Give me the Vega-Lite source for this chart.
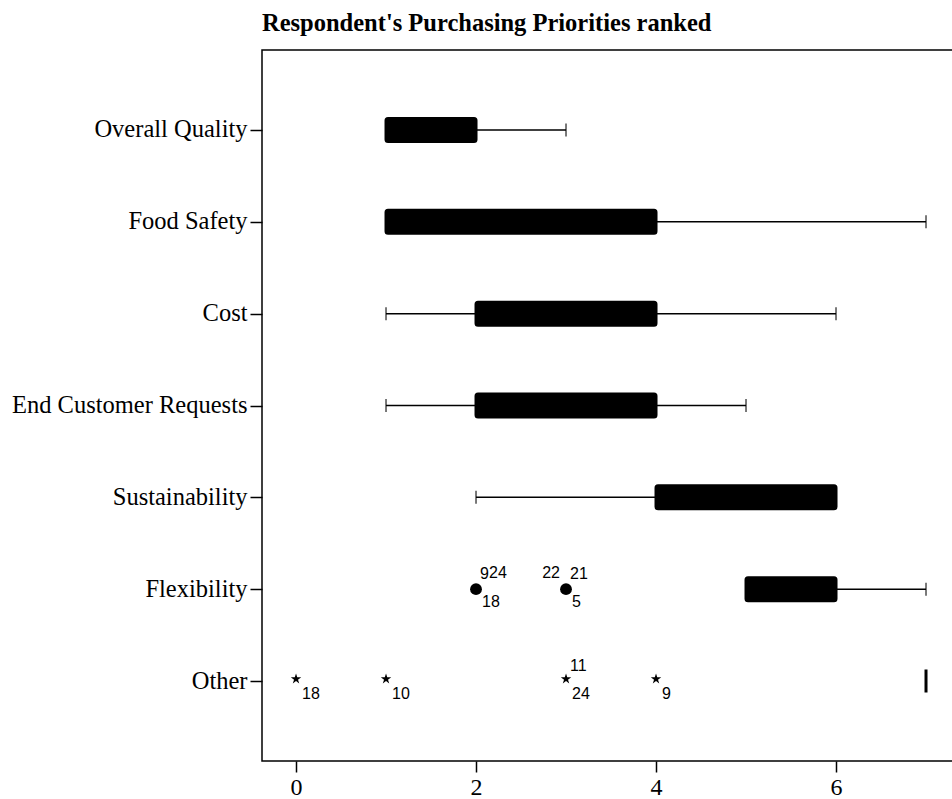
{
  "$schema": "https://vega.github.io/schema/vega-lite/v6.json",
  "autosize": "none",
  "width": 692,
  "height": 711,
  "padding": {"top": 50, "left": 262, "right": 0, "bottom": 38},
  "background": "white",
  "title": {
    "text": "Respondent's Purchasing Priorities ranked",
    "anchor": "start",
    "frame": "group",
    "font": "Liberation Serif",
    "fontWeight": "bold",
    "fontSize": 24.5,
    "color": "black",
    "baseline": "alphabetic",
    "offset": 21,
    "dy": 26
  },
  "config": {
    "view": {"stroke": "black", "strokeWidth": 1.5},
    "axis": {"grid": false, "domain": false, "tickColor": "black", "labelColor": "black", "tickWidth": 1.5}
  },
  "datasets": {
    "boxes": [
      {"category": "Overall Quality", "lo": 1, "q1": 1, "q3": 2, "hi": 3},
      {"category": "Food Safety", "lo": 1, "q1": 1, "q3": 4, "hi": 7},
      {"category": "Cost", "lo": 1, "q1": 2, "q3": 4, "hi": 6},
      {"category": "End Customer Requests", "lo": 1, "q1": 2, "q3": 4, "hi": 5},
      {"category": "Sustainability", "lo": 2, "q1": 4, "q3": 6, "hi": 6},
      {"category": "Flexibility", "lo": 5, "q1": 5, "q3": 6, "hi": 7},
      {"category": "Other", "lo": 7, "q1": 7, "q3": 7, "hi": 7}
    ],
    "outliers": [
      {"category": "Flexibility", "value": 2, "kind": "outlier"},
      {"category": "Flexibility", "value": 3, "kind": "outlier"},
      {"category": "Other", "value": 0, "kind": "extreme"},
      {"category": "Other", "value": 1, "kind": "extreme"},
      {"category": "Other", "value": 3, "kind": "extreme"},
      {"category": "Other", "value": 4, "kind": "extreme"}
    ],
    "labels": [
      {"category": "Flexibility", "value": 2, "label": "9", "side": "ur"},
      {"category": "Flexibility", "value": 2, "label": "24", "side": "ur2"},
      {"category": "Flexibility", "value": 2, "label": "18", "side": "lr"},
      {"category": "Flexibility", "value": 3, "label": "22", "side": "ul"},
      {"category": "Flexibility", "value": 3, "label": "21", "side": "ur"},
      {"category": "Flexibility", "value": 3, "label": "5", "side": "lr"},
      {"category": "Other", "value": 0, "label": "18", "side": "lr"},
      {"category": "Other", "value": 1, "label": "10", "side": "lr"},
      {"category": "Other", "value": 3, "label": "11", "side": "ur"},
      {"category": "Other", "value": 3, "label": "24", "side": "lr"},
      {"category": "Other", "value": 4, "label": "9", "side": "lr"}
    ]
  },
  "encoding": {
    "y": {
      "field": "category",
      "type": "nominal",
      "scale": {
        "type": "point",
        "padding": 0.871,
        "domain": ["Overall Quality", "Food Safety", "Cost", "End Customer Requests", "Sustainability", "Flexibility", "Other"]
      },
      "axis": {
        "title": null,
        "labelFont": "Liberation Serif",
        "labelFontSize": 24.5,
        "labelLimit": 0,
        "tickSize": 12,
        "labelPadding": 3
      }
    }
  },
  "layer": [
    {
      "data": {"name": "boxes"},
      "mark": {"type": "rule", "color": "black", "strokeWidth": 1.5},
      "encoding": {
        "x": {
          "field": "lo",
          "type": "quantitative",
          "scale": {"domain": [-0.378, 7.311], "nice": false, "zero": false},
          "axis": {
            "title": null,
            "values": [0, 2, 4, 6],
            "format": "d",
            "labelFont": "Liberation Serif",
            "labelFontSize": 24,
            "tickSize": 11,
            "labelPadding": 3
          }
        },
        "x2": {"field": "q1"}
      }
    },
    {
      "data": {"name": "boxes"},
      "mark": {"type": "rule", "color": "black", "strokeWidth": 1.5},
      "encoding": {
        "x": {"field": "q3", "type": "quantitative"},
        "x2": {"field": "hi"}
      }
    },
    {
      "data": {"name": "boxes"},
      "transform": [{"filter": "datum.lo < datum.q1"}],
      "mark": {"type": "tick", "color": "black", "orient": "vertical", "size": 13, "thickness": 1.5},
      "encoding": {
        "x": {"field": "lo", "type": "quantitative"}
      }
    },
    {
      "data": {"name": "boxes"},
      "transform": [{"filter": "datum.hi > datum.q3"}],
      "mark": {"type": "tick", "color": "black", "orient": "vertical", "size": 13, "thickness": 1.5},
      "encoding": {
        "x": {"field": "hi", "type": "quantitative"}
      }
    },
    {
      "data": {"name": "boxes"},
      "mark": {"type": "bar", "height": 23, "color": "black", "stroke": "black", "strokeWidth": 3, "cornerRadius": 2},
      "encoding": {
        "x": {"field": "q1", "type": "quantitative"},
        "x2": {"field": "q3"}
      }
    },
    {
      "data": {"name": "outliers"},
      "transform": [{"filter": "datum.kind === 'outlier'"}],
      "mark": {"type": "point", "shape": "circle", "filled": true, "color": "black", "size": 140, "opacity": 1},
      "encoding": {
        "x": {"field": "value", "type": "quantitative"}
      }
    },
    {
      "data": {"name": "outliers"},
      "transform": [{"filter": "datum.kind === 'extreme'"}],
      "mark": {
        "type": "point",
        "shape": "M0,-1L0.2245,-0.309L0.951,-0.309L0.363,0.118L0.588,0.809L0,0.382L-0.588,0.809L-0.363,0.118L-0.951,-0.309L-0.2245,-0.309Z",
        "filled": true,
        "color": "black",
        "size": 120,
        "opacity": 1,
        "yOffset": -2
      },
      "encoding": {
        "x": {"field": "value", "type": "quantitative"}
      }
    },
    {
      "data": {"name": "labels"},
      "transform": [{"filter": "datum.side === 'ur'"}],
      "mark": {"type": "text", "font": "Liberation Sans", "fontSize": 16, "color": "black", "align": "left", "baseline": "middle", "dx": 4, "dy": -15},
      "encoding": {
        "x": {"field": "value", "type": "quantitative"},
        "text": {"field": "label"}
      }
    },
    {
      "data": {"name": "labels"},
      "transform": [{"filter": "datum.side === 'ur2'"}],
      "mark": {"type": "text", "font": "Liberation Sans", "fontSize": 16, "color": "black", "align": "left", "baseline": "middle", "dx": 13, "dy": -16},
      "encoding": {
        "x": {"field": "value", "type": "quantitative"},
        "text": {"field": "label"}
      }
    },
    {
      "data": {"name": "labels"},
      "transform": [{"filter": "datum.side === 'lr'"}],
      "mark": {"type": "text", "font": "Liberation Sans", "fontSize": 16, "color": "black", "align": "left", "baseline": "middle", "dx": 6, "dy": 13},
      "encoding": {
        "x": {"field": "value", "type": "quantitative"},
        "text": {"field": "label"}
      }
    },
    {
      "data": {"name": "labels"},
      "transform": [{"filter": "datum.side === 'ul'"}],
      "mark": {"type": "text", "font": "Liberation Sans", "fontSize": 16, "color": "black", "align": "right", "baseline": "middle", "dx": -6, "dy": -16},
      "encoding": {
        "x": {"field": "value", "type": "quantitative"},
        "text": {"field": "label"}
      }
    }
  ]
}
